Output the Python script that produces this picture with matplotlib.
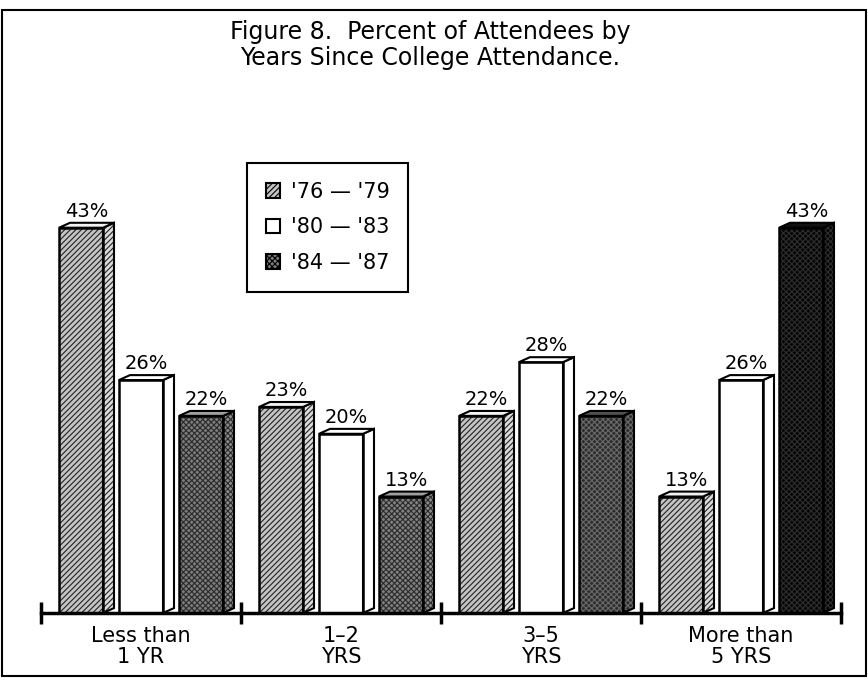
import matplotlib
matplotlib.use('Agg')
import matplotlib.pyplot as plt
from matplotlib.patches import Polygon, Rectangle, Patch
import numpy as np

# ---- data ----
categories = ["Less than\n1 YR", "1\u20132\nYRS", "3\u20135\nYRS", "More than\n5 YRS"]
series_labels = ["'76 \u2014 '79", "'80 \u2014 '83", "'84 \u2014 '87"]
s76_79 = [43, 23, 22, 13]
s80_83 = [26, 20, 28, 26]
s84_87 = [22, 13, 22, 43]
series_values = [s76_79, s80_83, s84_87]
title = "Figure 8.  Percent of Attendees by\nYears Since College Attendance."

# ---- styles ----
plt.rcParams['font.family'] = ['DejaVu Sans', 'Noto Sans']
plt.rcParams['hatch.linewidth'] = 0.8

face_colors = [
    ['#c4c4c4'] * 4,
    ['#ffffff'] * 4,
    ['#7c7c7c', '#808080', '#2c2c2c', '#050505'],
]
hatches = ['//////', None, 'xxxxxx']
hatch_colors = ['#222222', '#000000', ['#2a2a2a', '#2a2a2a', '#6a6a6a', '#2e2e2e']]
side_colors = [
    ['#dadada'] * 4,
    ['#ffffff'] * 4,
    ['#8a8a8a', '#8a8a8a', '#2c2c2c', '#050505'],
]
top_colors = [
    ['#f2f2f2'] * 4,
    ['#ffffff'] * 4,
    ['#a0a0a0', '#a0a0a0', '#505050', '#111111'],
]

fig = plt.figure(figsize=(8.68, 6.8), dpi=100)
ax = fig.add_axes([41 / 868, 67 / 680, 800 / 868, 448 / 680])
ax.set_xlim(-0.5, 3.5)
ax.set_ylim(0, 50)

offsets = [-0.3, 0.0, 0.3]
w = 0.22
dx = 0.055
dy = 0.55

x_groups = np.arange(len(categories))
for s, vals in enumerate(series_values):
    for g, h in enumerate(vals):
        x = x_groups[g] + offsets[s]
        hc = hatch_colors[s][g] if isinstance(hatch_colors[s], list) else hatch_colors[s]
        ax.bar(x, h, width=w, color=face_colors[s][g], hatch=hatches[s],
               edgecolor=hc, linewidth=0, zorder=2)
        ax.bar(x, h, width=w, fill=False, edgecolor='black', linewidth=1.8, zorder=4)
        xr = x + w / 2
        xl = x - w / 2
        side = [(xr, 0), (xr + dx, dy), (xr + dx, h + dy), (xr, h)]
        top = [(xl, h), (xl + dx, h + dy), (xr + dx, h + dy), (xr, h)]
        ax.add_patch(Polygon(side, closed=True, facecolor=side_colors[s][g],
                             hatch=hatches[s], edgecolor=hc, linewidth=0, zorder=2))
        ax.add_patch(Polygon(side, closed=True, fill=False, edgecolor='black',
                             linewidth=1.5, zorder=4))
        ax.add_patch(Polygon(top, closed=True, facecolor=top_colors[s][g],
                             edgecolor='black', linewidth=1.5, zorder=4))
        ax.annotate(f"{h}%", (x + dx / 2, h + dy), xytext=(0, 1.5),
                    textcoords='offset points', ha='center', va='bottom',
                    fontsize=14, zorder=5)

for sp in ['top', 'right', 'left']:
    ax.spines[sp].set_visible(False)
ax.spines['bottom'].set_linewidth(2.5)
ax.spines['bottom'].set_zorder(6)
ax.set_yticks([])
ax.set_xticks(x_groups)
ax.set_xticklabels(categories, fontsize=15, linespacing=1.1)
ax.tick_params(axis='x', which='major', length=0, pad=9)
ax.set_xticks(np.arange(-0.5, len(categories), 1), minor=True)
ax.tick_params(axis='x', which='minor', direction='inout', length=16, width=2.5)

handles = []
for s in range(3):
    handles.append(Patch(facecolor=face_colors[s][0], hatch=hatches[s],
                         edgecolor='black', linewidth=1.5, label=series_labels[s]))
leg = ax.legend(handles=handles, loc='upper left',
                bbox_to_anchor=(247 / 868, 1 - 163 / 680), bbox_transform=fig.transFigure,
                borderaxespad=0, fontsize=15, frameon=True, fancybox=False,
                edgecolor='black', framealpha=1, handlelength=0.7, handleheight=0.7,
                handletextpad=0.5, labelspacing=0.75, borderpad=0.9)
leg.get_frame().set_linewidth(1.5)

fig.add_artist(Rectangle((2 / 868, 4 / 680), 864 / 868, 666 / 680,
                         transform=fig.transFigure, fill=False, lw=1.5, ec='black'))
fig.text(430 / 868, 1 - 45 / 680, title, ha='center', va='center',
         fontsize=17, linespacing=1.12)

fig.savefig('out.png', dpi=100)
